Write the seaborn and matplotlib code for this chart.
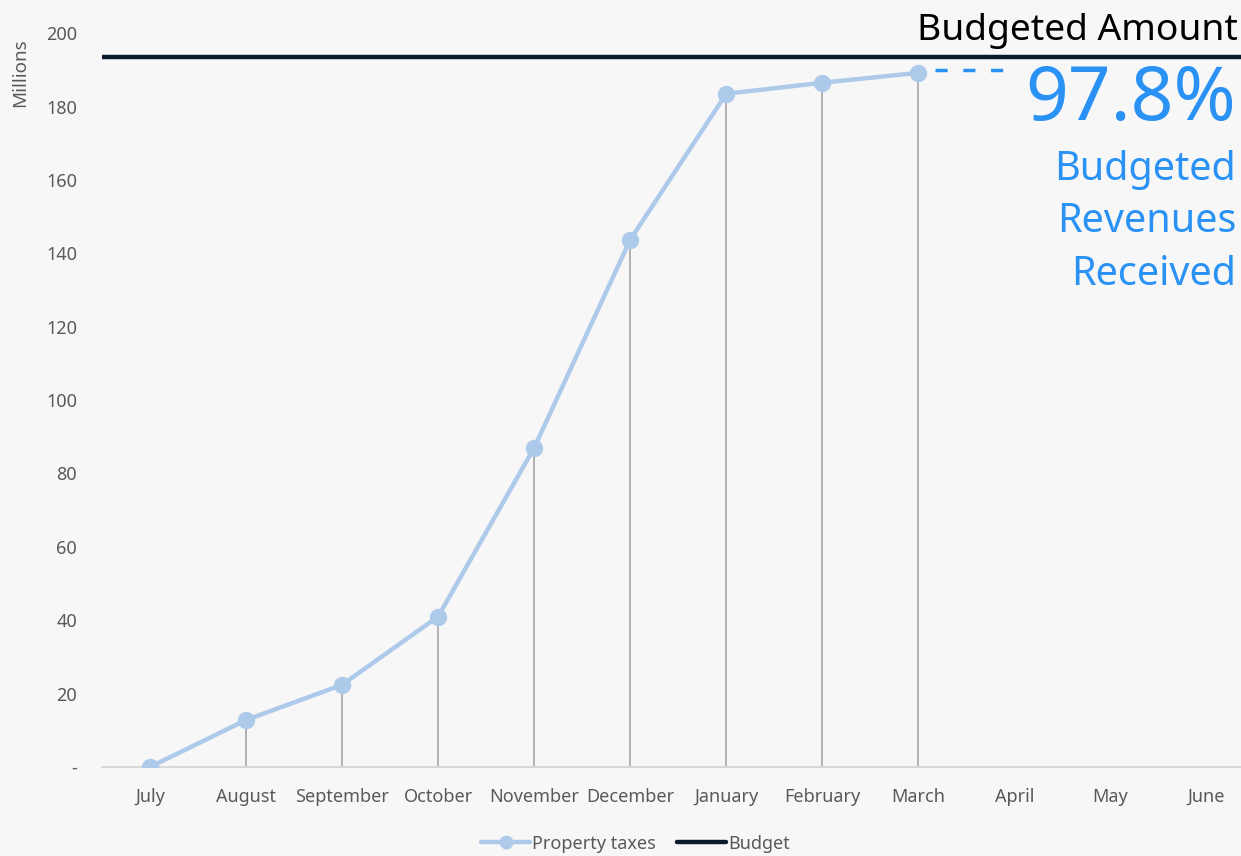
import numpy as np
import pandas as pd
import matplotlib
matplotlib.use("Agg")
import matplotlib.pyplot as plt
import seaborn as sns
from matplotlib.lines import Line2D

months = ["July", "August", "September", "October", "November", "December",
          "January", "February", "March", "April", "May", "June"]
property_taxes = [0.0, 12.8, 22.4, 41.0, 87.0, 143.7, 183.5, 186.5, 189.2]
budget = 193.5
y_ticks = [0, 20, 40, 60, 80, 100, 120, 140, 160, 180, 200]
y_tick_labels = ["-", "20", "40", "60", "80", "100", "120", "140", "160", "180", "200"]

sns.set_theme(style="white")
plt.rcParams["font.family"] = ["Noto Sans", "DejaVu Sans"]

BG = "#f7f7f7"
LINE = "#aecaea"
NAVY = "#0b1a2b"
BLUE = "#2a92f5"
GRAY = "#595959"

fig = plt.figure(figsize=(12.41, 8.56), dpi=100, facecolor=BG)
ax = fig.add_axes([0.0822, 0.104, 0.9178, 0.8572])
ax.set_facecolor(BG)

df = pd.DataFrame({"pos": np.arange(len(property_taxes)), "value": property_taxes})

# drop lines from each month's total to the baseline
ax.vlines(df["pos"][1:], 0, df["value"][1:], color="#a6a6a6", lw=1.2, zorder=1)

sns.lineplot(data=df, x="pos", y="value", ax=ax, color=LINE, lw=3.2,
             marker="o", markersize=12.5, markeredgewidth=0, zorder=3, legend=False)

ax.axhline(budget, color=NAVY, lw=3.2, zorder=2)

# leader from the latest month toward the percentage
last = len(property_taxes) - 1
ax.plot([last + 0.17, last + 0.9], [property_taxes[-1] + 0.8, property_taxes[-1] + 0.8],
        color=BLUE, lw=2.5, ls=(0, (3.5, 4.5)), zorder=2)

ax.set_xlim(-0.5, 11.36)
ax.set_ylim(0, 200)
ax.set_xticks(np.arange(len(months)))
ax.set_xticklabels(months, color=GRAY, fontsize=13)
ax.set_yticks(y_ticks)
ax.set_yticklabels(y_tick_labels, color=GRAY, fontsize=13)
ax.tick_params(axis="x", length=0, pad=15)
ax.tick_params(axis="y", length=0, pad=18)
ax.set_xlabel("")
ax.set_ylabel("")

for s in ["top", "right", "left"]:
    ax.spines[s].set_visible(False)
ax.spines["bottom"].set_color("#d9d9d9")
ax.spines["bottom"].set_linewidth(1.5)

fig.text(0.0165, 0.955, "Millions", rotation=90, color=GRAY, fontsize=13.5,
         ha="center", va="top")

pct = property_taxes[-1] / budget * 100
ax.text(11.33, budget + 2.3, "Budgeted Amount", ha="right", va="bottom",
        fontsize=26.8, color="black", clip_on=False)
ax.text(11.31, budget - 1.5, f"{pct:.1f}%", ha="right", va="top",
        fontsize=54, color=BLUE, clip_on=False)
ax.text(11.31, 168.3, "Budgeted\nRevenues\nReceived", ha="right", va="top",
        fontsize=28.5, color=BLUE, linespacing=1.42, clip_on=False)

handles = [
    Line2D([0], [0], color=LINE, lw=3.2, marker="o", markersize=10, markeredgewidth=0),
    Line2D([0], [0], color=NAVY, lw=3.2),
]
fig.legend(handles, ["Property taxes", "Budget"], loc="lower center",
           bbox_to_anchor=(0.512, -0.015), ncol=2, frameon=False, fontsize=13,
           labelcolor=GRAY, handlelength=2.7, handletextpad=0.1, columnspacing=1.2)

fig.savefig("out.png", dpi=100, facecolor=BG)
